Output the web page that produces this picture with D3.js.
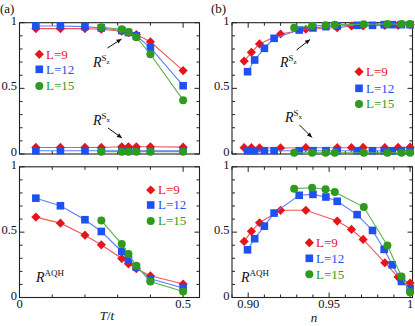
<!DOCTYPE html>
<html><head><meta charset="utf-8">
<script src="https://cdn.jsdelivr.net/npm/d3@7"></script>
<style>body{margin:0;background:#fff}svg{display:block}text{font-family:"Liberation Serif","DejaVu Serif",serif}</style>
</head><body>
<script>
// ---- data ----
const T_all = [0.05, 0.125, 0.2, 0.25, 0.3125, 0.333, 0.357, 0.4, 0.5];
const T_L15 = [0.25, 0.3125, 0.333, 0.357, 0.4, 0.5];
const rszA_L9  = [0.955, 0.955, 0.955, 0.95, 0.935, 0.925, 0.91, 0.855, 0.635];
const rszA_L12 = [0.975, 0.975, 0.97, 0.96, 0.94, 0.925, 0.9, 0.81, 0.52];
const rszA_L15 = [0.965, 0.95, 0.93, 0.89, 0.76, 0.41];
const rsxA_L9  = [0.05, 0.05, 0.05, 0.05, 0.055, 0.055, 0.055, 0.055, 0.052];
const rsxA_L12 = [0.025, 0.025, 0.025, 0.025, 0.025, 0.025, 0.025, 0.025, 0.025];
const rsxA_L15 = [0.018, 0.018, 0.018, 0.018, 0.018, 0.018];
const aqhA_L9  = [0.615, 0.569, 0.477, 0.403, 0.298, 0.258, 0.22, 0.166, 0.103];
const aqhA_L12 = [0.76, 0.702, 0.595, 0.505, 0.352, 0.288, 0.232, 0.143, 0.072];
const aqhA_L15 = [0.589, 0.409, 0.332, 0.242, 0.122, 0.046];

const n_L9  = [0.8975, 0.902, 0.907, 0.920, 0.9356, 0.955, 0.9638, 0.971, 0.9844, 0.9926, 1.0];
const n_L12 = [0.8996, 0.904, 0.91, 0.916, 0.9315, 0.940, 0.948, 0.955, 0.9673, 0.9768, 0.984, 0.989, 0.9947, 1.0];
const n_L15 = [0.9284, 0.9395, 0.9478, 0.9535, 0.9714, 0.986, 0.9947, 1.0];
const rszB_L9  = [0.708, 0.774, 0.838, 0.914, 0.95, 0.962, 0.975, 0.975, 0.98, 0.98, 0.985];
const rszB_L12 = [0.627, 0.716, 0.805, 0.881, 0.944, 0.96, 0.97, 0.975, 0.98, 0.98, 0.985, 0.985, 0.985, 0.985];
const rszB_L15 = [0.962, 0.977, 0.98, 0.985, 0.988, 0.99, 0.99, 0.99];
const rsxB_L9  = [0.048, 0.048, 0.046, 0.046, 0.048, 0.048, 0.048, 0.05, 0.048, 0.05, 0.052];
const rsxB_L12 = [0.025, 0.025, 0.025, 0.025, 0.025, 0.025, 0.025, 0.025, 0.025, 0.025, 0.025, 0.025, 0.025, 0.025];
const rsxB_L15 = [0.01, 0.01, 0.01, 0.01, 0.01, 0.01, 0.01, 0.01];
const aqhB_L9  = [0.429, 0.506, 0.572, 0.667, 0.667, 0.585, 0.521, 0.444, 0.266, 0.156, 0.11];
const aqhB_L12 = [0.365, 0.45, 0.546, 0.646, 0.782, 0.789, 0.769, 0.736, 0.634, 0.513, 0.368, 0.25, 0.123, 0.067];
const aqhB_L15 = [0.833, 0.84, 0.828, 0.807, 0.692, 0.398, 0.161, 0.041];

const seriesNames = ["L=9", "L=12", "L=15"];
const yTickLabels = ["0", "0.5", "1"];
const xTickLabelsA = ["0", "0.5"];
const xTickLabelsB = ["0.90", "0.95", "1"];

// ---- style ----
const colors = ["#e8141c", "#1f50f0", "#2f9a1e"];
const lineColors = ["#f0575c", "#5a80f5", "#5bb04c"];
const shapes = ["diamond", "square", "circle"];
const FONT = "Liberation Serif";

const svg = d3.select("body").append("svg").attr("width", 415).attr("height", 326);

const xA = d3.scaleLinear().domain([0, 0.55]).range([19.5, 199.5]);
const xB = d3.scaleLinear().domain([0.89, 1.0015]).range([232, 412.5]);
const yTop = d3.scaleLinear().domain([0, 1]).range([154, 22.7]);
const yBot = d3.scaleLinear().domain([0, 1]).range([297.5, 166.8]);

function txt(g, x, y, s, size, opts = {}) {
  const t = g.append("text").attr("x", x).attr("y", y).attr("font-family", FONT)
    .attr("font-size", size).attr("fill", opts.fill || "#111");
  if (opts.anchor) t.attr("text-anchor", opts.anchor);
  if (opts.italic) t.attr("font-style", "italic");
  if (s !== null) t.text(s);
  return t;
}

function marker(g, shape, cx, cy, color) {
  if (shape === "diamond") {
    const h = 4.6;
    g.append("path").attr("d", `M${cx},${cy-h}L${cx+h},${cy}L${cx},${cy+h}L${cx-h},${cy}Z`).attr("fill", color);
  } else if (shape === "square") {
    g.append("rect").attr("x", cx-3.8).attr("y", cy-3.8).attr("width", 7.6).attr("height", 7.6).attr("fill", color);
  } else {
    g.append("circle").attr("cx", cx).attr("cy", cy).attr("r", 4).attr("fill", color);
  }
}

function frame(x, y, xMinor, xMajor, xLabels, xLabelVals) {
  const g = svg.append("g");
  const [x0, x1] = x.range(); const [y0, y1] = y.range();
  g.append("rect").attr("x", x0).attr("y", y1).attr("width", x1-x0).attr("height", y0-y1)
    .attr("fill", "none").attr("stroke", "#222").attr("stroke-width", 1.1);
  const yt = d3.range(0, 1.0001, 0.1);
  yt.forEach(v => {
    const major = Math.abs(v*2 - Math.round(v*2)) < 1e-6;
    const L = major ? 5 : 3;
    g.append("line").attr("x1", x0).attr("x2", x0+L).attr("y1", y(v)).attr("y2", y(v)).attr("stroke", "#222");
    g.append("line").attr("x1", x1).attr("x2", x1-L).attr("y1", y(v)).attr("y2", y(v)).attr("stroke", "#222");
  });
  xMinor.forEach(v => {
    const major = xMajor.some(m => Math.abs(m - v) < 1e-6);
    const L = major ? 5 : 3;
    g.append("line").attr("x1", x(v)).attr("x2", x(v)).attr("y1", y0).attr("y2", y0-L).attr("stroke", "#222");
    g.append("line").attr("x1", x(v)).attr("x2", x(v)).attr("y1", y1).attr("y2", y1+L).attr("stroke", "#222");
  });
  [0, 0.5, 1].forEach((v, i) => {
    txt(g, x0-2.5, y(v)+2, yTickLabels[i], 12.5, {anchor: "end"});
  });
  if (xLabels) {
    xLabelVals.forEach((v, i) => {
      txt(g, x(v), y0+10.5, xLabels[i], 12.5, {anchor: "middle"});
    });
  }
}

function series(x, y, xs, ys, k) {
  const g = svg.append("g");
  const pts = xs.map((d, i) => [x(d), y(ys[i])]);
  g.append("path").attr("d", d3.line()(pts)).attr("fill", "none")
    .attr("stroke", lineColors[k]).attr("stroke-width", 1.1);
  pts.forEach(p => marker(g, shapes[k], p[0], p[1], colors[k]));
}

function legend(mx, tx, ys) {
  ys.forEach((yy, k) => {
    marker(svg, shapes[k], mx, yy, colors[k]);
    txt(svg, tx, yy+4.3, seriesNames[k], 13, {fill: colors[k]});
  });
}

function rlabel(x, y, sup, sub) {
  const t = txt(svg, x, y, null, 14);
  t.append("tspan").attr("font-style", "italic").text("R");
  t.append("tspan").attr("font-size", 9).attr("dy", -6).text(sup);
  if (sub) t.append("tspan").attr("font-size", 7).attr("dy", 3).text(sub);
}

function arrow(xa, ya, xb, yb) {
  svg.append("line").attr("x1", xa).attr("y1", ya).attr("x2", xb).attr("y2", yb)
    .attr("stroke", "#111").attr("stroke-width", 1);
  const ang = Math.atan2(yb-ya, xb-xa), L = 5, w = 2.2;
  const bx = xb - L*Math.cos(ang), by = yb - L*Math.sin(ang);
  const px = -Math.sin(ang)*w, py = Math.cos(ang)*w;
  svg.append("path").attr("d", `M${xb},${yb}L${bx+px},${by+py}L${bx-px},${by-py}Z`).attr("fill", "#111");
}

const xMinorA = d3.range(0, 0.5501, 0.1);
const xMinorB = d3.range(0.89, 1.0001, 0.01);

frame(xA, yTop, xMinorA, [0, 0.5], null, null);
frame(xA, yBot, xMinorA, [0, 0.5], xTickLabelsA, [0, 0.5]);
frame(xB, yTop, xMinorB, [0.9, 0.95, 1.0], null, null);
frame(xB, yBot, xMinorB, [0.9, 0.95, 1.0], xTickLabelsB, [0.9, 0.95, 1.0]);

series(xA, yTop, T_all, rsxA_L9, 0);
series(xA, yTop, T_all, rsxA_L12, 1);
series(xA, yTop, T_L15, rsxA_L15, 2);
series(xA, yTop, T_all, rszA_L9, 0);
series(xA, yTop, T_all, rszA_L12, 1);
series(xA, yTop, T_L15, rszA_L15, 2);
series(xA, yBot, T_all, aqhA_L9, 0);
series(xA, yBot, T_all, aqhA_L12, 1);
series(xA, yBot, T_L15, aqhA_L15, 2);
series(xB, yTop, n_L9, rsxB_L9, 0);
series(xB, yTop, n_L12, rsxB_L12, 1);
series(xB, yTop, n_L15, rsxB_L15, 2);
series(xB, yTop, n_L9, rszB_L9, 0);
series(xB, yTop, n_L12, rszB_L12, 1);
series(xB, yTop, n_L15, rszB_L15, 2);
series(xB, yBot, n_L9, aqhB_L9, 0);
series(xB, yBot, n_L12, aqhB_L12, 1);
series(xB, yBot, n_L15, aqhB_L15, 2);

legend(39.3, 46, [54.3, 69.3, 86]);
legend(359, 366, [71.7, 88.3, 104]);
legend(150.7, 158, [190, 205, 221]);
legend(309.3, 316, [242.7, 258.3, 274.3]);

rlabel(93, 66.5, "S", "z");
arrow(107.5, 48, 121.5, 39);
rlabel(93, 125, "S", "x");
arrow(108, 128, 122, 138);
rlabel(280, 66.5, "S", "z");
arrow(296.5, 50, 310, 39.5);
rlabel(285, 121.5, "S", "x");
arrow(299.5, 125, 312, 137.5);
rlabel(36, 281.5, "AQH", null);
rlabel(241, 281.5, "AQH", null);

txt(svg, 0, 13, "(a)", 13);
txt(svg, 211, 13, "(b)", 13);

const tt = txt(svg, 107, 320, null, 13, {anchor: "middle", italic: true});
tt.append("tspan").text("T");
tt.append("tspan").attr("font-style", "normal").text("/");
tt.append("tspan").text("t");
txt(svg, 314, 322, "n", 13, {anchor: "middle", italic: true});
</script>
</body></html>
